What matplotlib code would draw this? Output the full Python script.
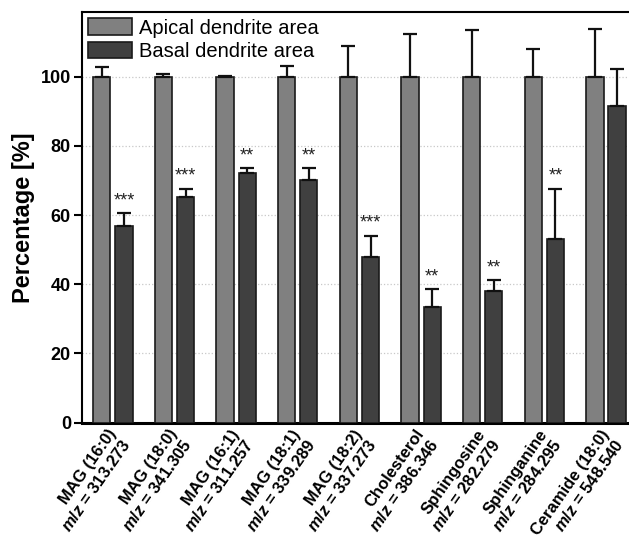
import numpy as np
import matplotlib
matplotlib.use('Agg')
import matplotlib.pyplot as plt

plt.rcParams['font.family'] = ['Liberation Sans', 'DejaVu Sans']
plt.rcParams['mathtext.fontset'] = 'custom'
plt.rcParams['mathtext.it'] = 'Liberation Sans:italic:bold'
plt.rcParams['mathtext.rm'] = 'Liberation Sans:bold'

# Daten
labels = [
    "MAG (16:0)\n$\\it{m/z}$ = 313.273",
    "MAG (18:0)\n$\\it{m/z}$ = 341.305",
    "MAG (16:1)\n$\\it{m/z}$ = 311.257",
    "MAG (18:1)\n$\\it{m/z}$ = 339.289",
    "MAG (18:2)\n$\\it{m/z}$ = 337.273",
    "Cholesterol\n$\\it{m/z}$ = 386.346",
    "Sphingosine\n$\\it{m/z}$ = 282.279",
    "Sphinganine\n$\\it{m/z}$ = 284.295",
    "Ceramide (18:0)\n$\\it{m/z}$ = 548.540",
]
apical = [100, 100, 100, 100, 100, 100, 100, 100, 100]
apical_err = [2.7, 0.9, 0.3, 3.1, 9.0, 12.3, 13.5, 8.0, 13.9]
basal = [56.8, 65.2, 72.1, 70.2, 47.8, 33.3, 38.0, 53.2, 91.6]
basal_err = [3.8, 2.4, 1.5, 3.4, 6.3, 5.3, 3.2, 14.4, 10.7]
stars = ["***", "***", "**", "**", "***", "**", "**", "**", ""]

C_APICAL = '#808080'
C_BASAL = '#404040'

fig = plt.figure(figsize=(6.29, 5.5), dpi=100)
ax = fig.add_axes([0.1304, 0.2315, 0.882, 0.746])

x = np.arange(len(labels))
w = 0.28
off = 0.18

ax.bar(x - off, apical, w, color=C_APICAL, edgecolor='#1a1a1a', linewidth=1.2,
       label='Apical dendrite area', zorder=3,
       yerr=[np.zeros(len(x)), apical_err], capsize=5,
       error_kw=dict(elinewidth=1.6, capthick=1.6, ecolor='#111111', zorder=4))
ax.bar(x + off, basal, w, color=C_BASAL, edgecolor='#1a1a1a', linewidth=1.2,
       label='Basal dendrite area', zorder=3,
       yerr=[np.zeros(len(x)), basal_err], capsize=5,
       error_kw=dict(elinewidth=1.6, capthick=1.6, ecolor='#111111', zorder=4))

# Signifikanz-Sterne
for i, s in enumerate(stars):
    if s:
        ax.text(x[i] + off, basal[i] + basal_err[i] + 3.6, s, ha='center', va='center',
                fontsize=13, color='#222222')

ax.set_xlim(-0.5, 8.5)
ax.set_ylim(0, 118.6)
ax.set_yticks([0, 20, 40, 60, 80, 100])
ax.set_yticklabels(['0', '20', '40', '60', '80', '100'], fontweight='bold', fontsize=13)
# Etiketten leicht nach links (Ticks sind unsichtbar)
ax.set_xticks(x - 0.1)
ax.set_xticklabels(labels, rotation=55, ha='right', rotation_mode='anchor',
                   fontweight='bold', fontsize=12, linespacing=1.15)
ax.tick_params(axis='x', length=0, pad=3)
ax.tick_params(axis='y', direction='out', length=6, width=1.5, pad=2)

for yy in [20, 40, 60, 80, 100]:
    ax.axhline(yy, color='#c8c8c8', linestyle=':', linewidth=0.9, zorder=1)

ax.spines['right'].set_visible(False)
ax.spines['left'].set_linewidth(1.5)
ax.spines['top'].set_linewidth(1.5)
ax.spines['bottom'].set_linewidth(2.2)

ax.set_ylabel('Percentage [%]', fontsize=17, fontweight='bold', labelpad=4)

ax.legend(loc='upper left', frameon=False, fontsize=14.5, handlelength=2.2,
          handleheight=0.9, labelspacing=0.2, handletextpad=0.35,
          borderaxespad=0.2, borderpad=0.1)

fig.savefig('out.png', dpi=100)
